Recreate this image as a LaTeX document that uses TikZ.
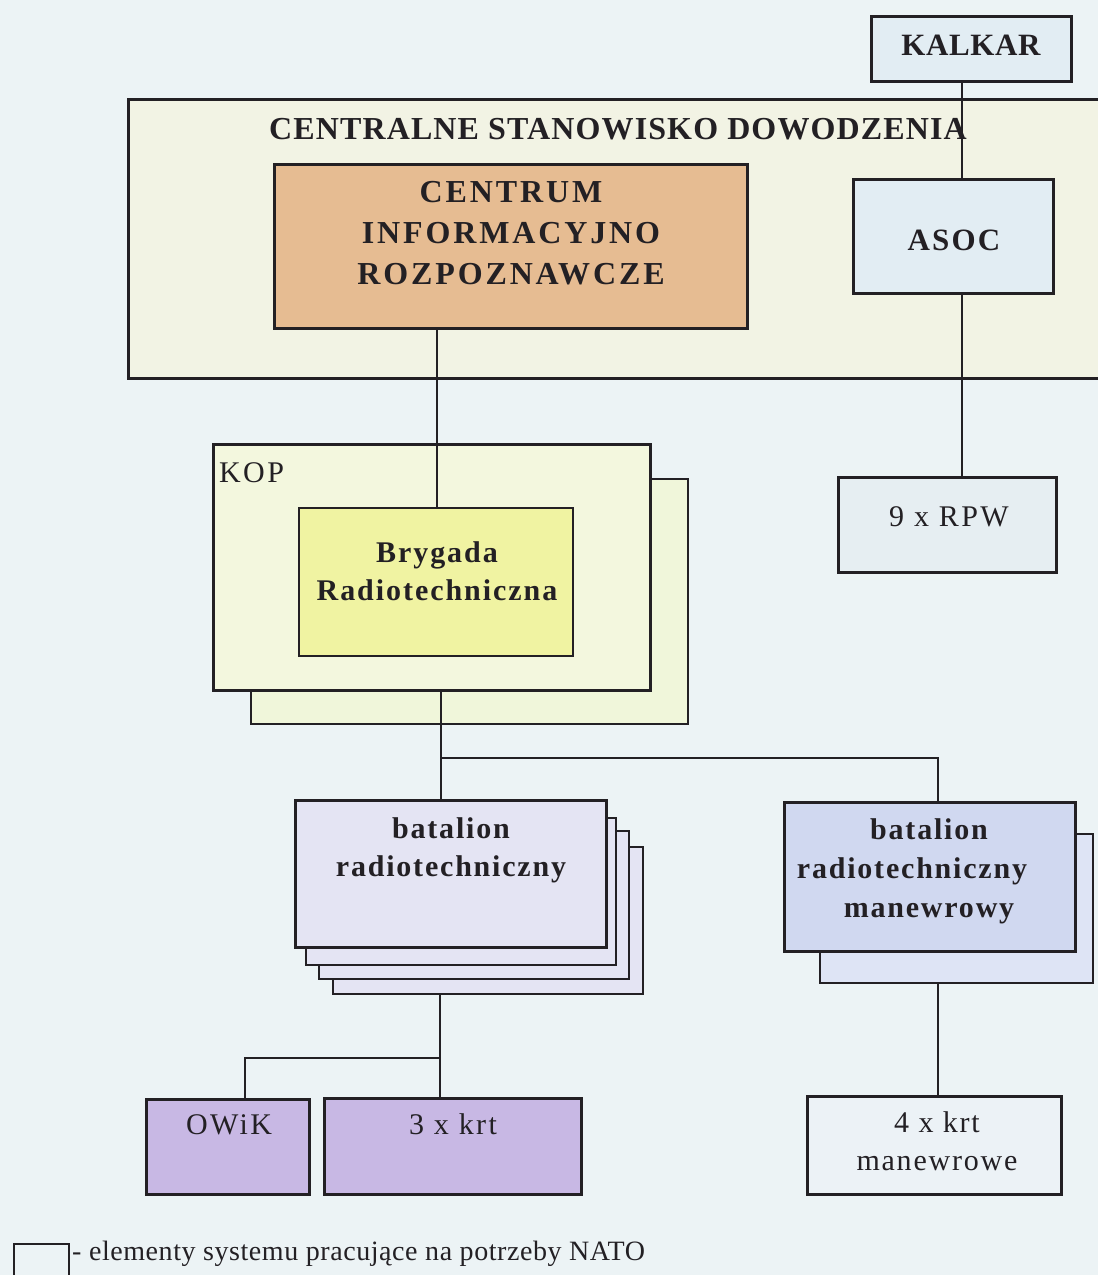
\documentclass[tikz,border=0pt]{standalone}
\usepackage{fontspec}
\setmainfont{Liberation Serif}
\definecolor{paper}{RGB}{236,243,245}
\definecolor{ink}{RGB}{35,32,36}
\definecolor{csdfill}{RGB}{242,243,228}
\definecolor{natofill}{RGB}{226,237,243}
\definecolor{rpwfill}{RGB}{230,238,242}
\definecolor{cirfill}{RGB}{230,188,146}
\definecolor{kopfill}{RGB}{243,247,222}
\definecolor{kopback}{RGB}{240,246,218}
\definecolor{brfill}{RGB}{240,243,162}
\definecolor{batfill}{RGB}{228,228,243}
\definecolor{manfill}{RGB}{208,216,240}
\definecolor{manback}{RGB}{222,228,245}
\definecolor{krtfill}{RGB}{200,184,228}
\definecolor{krtfour}{RGB}{236,242,246}
\tikzset{
  orgbox/.style={draw=ink, line width=3pt, inner sep=0pt, anchor=north west},
  thinbox/.style={draw=ink, line width=2pt, inner sep=0pt, anchor=north west},
  link/.style={draw=ink, line width=1.8pt},
  boldtxt/.style={text=ink, align=center, inner sep=0pt,
    font=\fontsize{31}{39}\selectfont\bfseries\addfontfeature{LetterSpace=7}},
  plaintxt/.style={text=ink, align=center, inner sep=0pt,
    font=\fontsize{30}{38}\selectfont\addfontfeature{LetterSpace=8}},
}
\begin{document}
\begin{tikzpicture}[x=1pt,y=-1pt]
\useasboundingbox (0,0) rectangle (1098,1275);
\fill[paper] (0,0) rectangle (1098,1275);

% column positions of the vertical connectors
\coordinate (colA) at (962,0);
\coordinate (colB) at (437,0);
\coordinate (colC) at (441,0);
\coordinate (colD) at (938,0);

% top level
\node[orgbox, fill=natofill, minimum width=200pt, minimum height=65pt] (kalkar) at (870,15) {};
\node[boldtxt, font=\fontsize{31}{39}\selectfont\bfseries\addfontfeature{LetterSpace=2}] (kalkar-t) at (971,45) {KALKAR};

\node[orgbox, fill=csdfill, minimum width=990pt, minimum height=279pt] (csd) at (127,98) {};
\node[boldtxt, font=\fontsize{32}{40}\selectfont\bfseries\addfontfeature{LetterSpace=3.5}] (csd-t) at (618,129) {CENTRALNE STANOWISKO DOWODZENIA};

\node[orgbox, fill=cirfill, minimum width=473pt, minimum height=164pt] (centrum) at (273,163) {};
\node[boldtxt, font=\fontsize{32}{41}\selectfont\bfseries\addfontfeature{LetterSpace=9}] (centrum-t) at (511,233) {CENTRUM\\INFORMACYJNO\\ROZPOZNAWCZE};

\node[orgbox, fill=natofill, minimum width=200pt, minimum height=114pt] (asoc) at (852,178) {};
\node[boldtxt] (asoc-t) at (954,240) {ASOC};

\node[orgbox, fill=rpwfill, minimum width=218pt, minimum height=95pt] (rpw) at (837,476) {};
\node[plaintxt] (rpw-t) at (949,517) {9 x RPW};

% KOP with its brigade
\node[thinbox, fill=kopback, minimum width=437pt, minimum height=245pt] (kopb) at (250,478) {};
\node[orgbox, fill=kopfill, minimum width=437pt, minimum height=246pt] (kop) at (212,443) {};
\node[plaintxt, anchor=west] (kop-t) at (219,473) {KOP};
\node[thinbox, fill=brfill, minimum width=274pt, minimum height=148pt] (bryg) at (298,507) {};
\node[boldtxt, font=\fontsize{30}{38}\selectfont\bfseries\addfontfeature{LetterSpace=6.5}] (bryg-t) at (437,571) {Brygada\\Radiotechniczna};

% battalions
\node[thinbox, fill=batfill, minimum width=310pt, minimum height=147pt] (bat4) at (332,846) {};
\node[thinbox, fill=batfill, minimum width=310pt, minimum height=148pt] (bat3) at (318,830) {};
\node[thinbox, fill=batfill, minimum width=310pt, minimum height=147pt] (bat2) at (305,817) {};
\node[orgbox, fill=batfill, minimum width=311pt, minimum height=147pt] (bat) at (294,799) {};
\node[boldtxt, font=\fontsize{30}{38}\selectfont\bfseries\addfontfeature{LetterSpace=6}] (bat-t) at (451,850) {batalion\\radiotechniczny};

\node[thinbox, fill=manback, minimum width=273pt, minimum height=149pt] (manb) at (819,833) {};
\node[orgbox, fill=manfill, minimum width=291pt, minimum height=149pt] (man) at (783,801) {};
\node[boldtxt, font=\fontsize{30}{39}\selectfont\bfseries\addfontfeature{LetterSpace=6}] (man-t) at (912,871)
  {\hspace*{34pt}batalion\\radiotechniczny\\\hspace*{34pt}manewrowy};

% radar companies
\node[orgbox, fill=krtfill, minimum width=163pt, minimum height=95pt] (owik) at (145,1098) {};
\node[plaintxt] (owik-t) at (229,1125) {OWiK};
\node[orgbox, fill=krtfill, minimum width=257pt, minimum height=96pt] (krt3) at (323,1097) {};
\node[plaintxt] (krt3-t) at (453,1124) {3 x krt};
\node[orgbox, fill=krtfour, minimum width=254pt, minimum height=98pt] (krt4) at (806,1095) {};
\node[plaintxt, font=\fontsize{30}{38}\selectfont\addfontfeature{LetterSpace=6}] (krt4-t) at (937,1141) {4 x krt\\manewrowe};

% connectors
\draw[link] (kalkar.south -| colA) -- (asoc.north -| colA);
\draw[link] (asoc.south -| colA) -- (rpw.north -| colA);
\draw[link] (centrum.south -| colB) -- (bryg.north -| colB);
\coordinate (splitA) at (441,758);
\draw[link] (kop.south -| colC) -- (bat.north -| colC);
\draw[link] (splitA) -| (man.north -| colD);
\draw[link] (manb.south -| colD) -- (krt4.north -| colD);
\coordinate (splitB) at (440,1058);
\draw[link] (bat4.south -| splitB) -- (krt3.north -| splitB);
\draw[link] (splitB) -| (owik.north -| 245,0);

% legend
\node[thinbox, draw=ink, line width=2pt, fill=paper, minimum width=55pt, minimum height=50pt] (legbox) at (13,1243) {};
\node[text=ink, anchor=west, inner sep=0pt, font=\fontsize{28}{32}\selectfont\addfontfeature{LetterSpace=2}] (leg-t) at (72,1254) {- elementy systemu pracujące na potrzeby NATO};
\end{tikzpicture}
\end{document}
